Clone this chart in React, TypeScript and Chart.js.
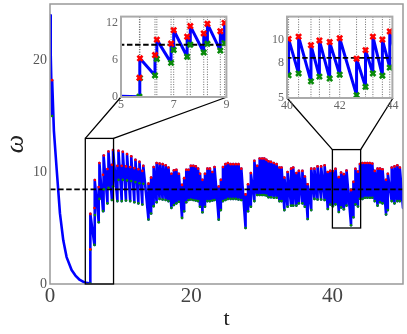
import React, { useEffect, useRef } from "react";
import { Chart, registerables } from "chart.js";

Chart.register(...registerables);

const SERIF = '"Liberation Serif", "DejaVu Serif", serif';

// free-decay samples (no kick)
const CURVE_T = [0, 0.1, 0.55, 0.95, 1.41, 1.88, 2.35, 3.06, 3.6, 4.23, 4.94, 50.0];
const CURVE_W = [24.0, 20.5, 13.7, 10.2, 6.3, 3.9, 2.4, 1.25, 0.75, 0.36, 0.12, 6.8];

// kick events: time, value before kick (green), value after kick (red)
const KICK_T = [
  0.30, 5.70, 5.72, 6.29, 6.36, 6.90, 7.00, 7.51, 7.63, 8.14,
  8.28, 8.77, 8.93, 9.55, 9.70, 10.16, 10.31, 10.76, 10.91, 11.36,
  11.51, 11.95, 12.10, 12.52, 12.67, 13.08, 13.22, 13.95, 14.32, 14.68,
  15.10, 15.52, 15.95, 16.38, 16.78, 17.20, 17.55, 17.90, 18.25, 18.70,
  19.00, 19.30, 19.62, 19.95, 20.30, 20.65, 20.98, 21.25, 21.60, 21.95,
  22.30, 22.65, 23.00, 23.30, 23.90, 24.20, 24.50, 24.85, 25.20, 25.58,
  25.95, 26.32, 26.70, 27.10, 27.70, 28.05, 28.45, 28.95, 29.35, 29.70,
  30.05, 30.35, 30.65, 30.95, 31.30, 31.70, 32.10, 32.50, 32.80, 33.20,
  33.65, 34.15, 34.45, 34.90, 35.25, 35.75, 36.10, 36.50, 37.00, 37.45,
  37.90, 38.40, 38.90, 39.35, 39.70, 40.06, 40.44, 40.91, 41.23, 41.62,
  42.00, 42.64, 42.98, 43.26, 43.62, 43.90, 44.25, 44.60, 44.95, 45.30,
  45.65, 46.00, 46.40, 46.75, 47.10, 47.60, 47.85, 48.40, 48.80, 49.20,
  49.55,
];
const KICK_PRE = [
  15.0, 0.05, 3.05, 3.49, 6.15, 5.52, 7.60, 6.51, 8.45, 7.20,
  8.60, 7.50, 8.70, 7.40, 9.30, 7.40, 9.30, 7.45, 9.25, 7.40,
  9.20, 7.30, 9.10, 7.20, 9.00, 7.10, 8.95, 5.76, 6.30, 6.95,
  7.30, 7.60, 7.55, 7.50, 7.40, 6.80, 7.05, 7.20, 7.35, 5.90,
  6.50, 7.30, 7.50, 7.55, 7.50, 7.45, 7.40, 6.90, 6.40, 6.90,
  7.40, 7.40, 7.45, 7.50, 5.75, 6.60, 7.40, 7.50, 7.60, 7.60,
  7.60, 7.60, 7.55, 7.50, 5.00, 6.50, 6.90, 7.40, 7.95, 7.95,
  7.95, 7.95, 7.90, 7.75, 7.75, 7.70, 7.70, 7.40, 7.40, 6.60,
  6.90, 7.00, 7.00, 7.00, 7.20, 7.20, 6.90, 5.80, 6.60, 7.60,
  7.55, 7.55, 7.50, 6.70, 7.10, 6.95, 7.11, 6.43, 6.84, 6.67,
  7.00, 5.25, 5.96, 7.11, 6.92, 7.61, 7.60, 7.70, 7.70, 7.70,
  7.70, 7.40, 7.00, 7.30, 7.20, 6.20, 6.60, 7.40, 7.20, 7.40,
  7.40,
];
const KICK_POST = [
  18.2, 3.10, 6.26, 6.78, 9.28, 8.65, 10.80, 9.75, 11.47, 10.27,
  11.83, 10.64, 11.97, 10.55, 11.90, 10.55, 11.80, 10.50, 11.60, 10.45,
  11.40, 10.35, 11.10, 10.25, 10.90, 10.10, 10.55, 8.96, 9.50, 10.45,
  10.80, 10.75, 10.70, 10.60, 10.40, 9.85, 10.15, 10.20, 9.85, 8.85,
  9.45, 10.20, 10.20, 10.55, 10.55, 10.50, 10.30, 9.85, 9.30, 9.85,
  10.30, 10.30, 10.00, 10.45, 8.70, 9.30, 10.45, 10.70, 10.80, 10.70,
  10.70, 10.70, 10.70, 10.30, 8.00, 8.90, 9.90, 11.00, 10.55, 11.20,
  11.20, 11.20, 11.10, 10.95, 10.90, 10.80, 10.70, 10.40, 10.40, 9.50,
  10.00, 10.30, 10.40, 9.90, 10.10, 10.10, 9.60, 8.90, 10.30, 10.30,
  10.50, 10.50, 10.60, 10.00, 10.10, 10.08, 10.28, 9.54, 9.95, 9.81,
  10.14, 8.38, 9.12, 10.28, 10.03, 10.72, 10.80, 10.80, 10.80, 10.80,
  10.75, 10.10, 10.30, 10.30, 10.25, 9.30, 9.85, 10.40, 10.50, 10.60,
  10.40,
];

const MEAN_OMEGA = 8.45;
const T_RANGE = [0, 50];
const W_RANGE = [0, 25];
const X_TICKS = [0, 20, 40];
const Y_TICKS = [0, 10, 20];
const INSET1_X_TICKS = [5, 7, 9];
const INSET1_Y_TICKS = [0, 6, 12];
const INSET2_X_TICKS = [40, 42, 44];
const INSET2_Y_TICKS = [5, 8, 10];

type Box = { left: number; top: number; width: number; height: number };
type InsetSpec = {
  xMin: number; xMax: number; yMin: number; yMax: number;
  xTicks: number[]; yTicks: number[]; box: Box;
};

const INSETS: InsetSpec[] = [
  { xMin: 5, xMax: 9, yMin: 0, yMax: 13, xTicks: INSET1_X_TICKS, yTicks: INSET1_Y_TICKS,
    box: { left: 121, top: 14, width: 106, height: 83 } },
  { xMin: 40, xMax: 44, yMin: 5, yMax: 12, xTicks: INSET2_X_TICKS, yTicks: INSET2_Y_TICKS,
    box: { left: 287, top: 14, width: 106, height: 84 } },
];
const INSET_AXIS_W = 22;
const INSET_AXIS_H = 18;
const INSET_PAD_T = 4;
const INSET_PAD_R = 6;

function buildLine() {
  const pts = CURVE_T.map((t, i) => ({ x: t, y: CURVE_W[i] }));
  KICK_T.forEach((t, i) => {
    pts.push({ x: t, y: KICK_PRE[i] });
    pts.push({ x: t, y: KICK_POST[i] });
  });
  return pts.sort((a, b) => a.x - b.x);
}

function makeDatasets(inset: boolean): any[] {
  const clip = inset ? 0 : undefined;
  const red = KICK_T.map((t, i) => ({ x: t, y: KICK_POST[i] }));
  const green = KICK_T.map((t, i) => ({ x: t, y: KICK_PRE[i] }));
  const marker = (color: string) => inset
    ? { pointStyle: "crossRot", pointRadius: 3.6, pointBorderWidth: 2.6, pointBorderColor: color, pointBackgroundColor: color }
    : { pointStyle: "circle", pointRadius: 1.3, pointBorderWidth: 0, pointBorderColor: color, pointBackgroundColor: color };
  return [
    { label: "peaks", data: red, showLine: false, clip, ...marker("#ff0000") },
    { label: "troughs", data: green, showLine: false, clip, ...marker("#0a8a0a") },
    { label: "mean", data: [{ x: T_RANGE[0], y: MEAN_OMEGA }, { x: T_RANGE[1], y: MEAN_OMEGA }],
      borderColor: "#000", borderWidth: 1.8, borderDash: [5.5, 2.6], pointRadius: 0, clip },
    { label: "omega", data: buildLine(), borderColor: "#0000ff", borderWidth: inset ? 3 : 2.6,
      pointRadius: 0, borderJoinStyle: "round", borderCapStyle: "round", clip },
  ];
}

const setTicks = (vals: number[]) => (s: any) => { s.ticks = vals.map((v) => ({ value: v })); };

const mainPlugin = {
  id: "mainDecor",
  afterDraw(chart: any) {
    const { ctx, chartArea: a, scales } = chart;
    const x = scales.x, y = scales.y;
    ctx.save();
    ctx.strokeStyle = "#999";
    ctx.lineWidth = 1.5;
    ctx.strokeRect(a.left, a.top, a.right - a.left, a.bottom - a.top);
    ctx.strokeStyle = "#000";
    ctx.lineWidth = 1.3;
    INSETS.forEach((ins) => {
      const l = x.getPixelForValue(ins.xMin);
      const r = x.getPixelForValue(ins.xMax);
      const t = y.getPixelForValue(ins.yMax);
      const b = y.getPixelForValue(ins.yMin);
      ctx.strokeRect(l, t, r - l, b - t);
      ctx.beginPath();
      ctx.moveTo(l, t);
      ctx.lineTo(ins.box.left, ins.box.top + ins.box.height);
      ctx.moveTo(r, t);
      ctx.lineTo(ins.box.left + ins.box.width, ins.box.top + ins.box.height);
      ctx.stroke();
    });
    ctx.restore();
  },
};

const insetPlugin = {
  id: "insetDecor",
  beforeDatasetsDraw(chart: any) {
    const { ctx, chartArea: a, scales } = chart;
    const x = scales.x;
    ctx.save();
    ctx.strokeStyle = "#444";
    ctx.lineWidth = 0.8;
    ctx.setLineDash([1, 1.5]);
    KICK_T.forEach((t) => {
      if (t < x.min || t > x.max) return;
      const px = x.getPixelForValue(t);
      ctx.beginPath();
      ctx.moveTo(px, a.top);
      ctx.lineTo(px, a.bottom);
      ctx.stroke();
    });
    ctx.restore();
  },
  afterDraw(chart: any) {
    const { ctx, chartArea: a } = chart;
    ctx.save();
    ctx.strokeStyle = "#aaa";
    ctx.lineWidth = 2;
    ctx.strokeRect(a.left, a.top, a.right - a.left, a.bottom - a.top);
    ctx.restore();
  },
};

function mainConfig(): any {
  return {
    type: "line",
    data: { datasets: makeDatasets(false) },
    options: {
      animation: false,
      responsive: false,
      devicePixelRatio: 1,
      events: [],
      layout: { padding: { left: 0, right: 3, top: 3, bottom: 0 } },
      plugins: { legend: { display: false }, tooltip: { enabled: false } },
      scales: {
        x: {
          type: "linear", min: T_RANGE[0], max: T_RANGE[1],
          afterBuildTicks: setTicks(X_TICKS),
          afterFit: (s: any) => { s.height = 50; s.paddingLeft = 0; s.paddingRight = 0; },
          grid: { display: false, drawTicks: false },
          border: { display: false },
          ticks: { padding: 0, color: "#444", font: { family: SERIF, size: 21 }, autoSkip: false, maxRotation: 0 },
          title: { display: true, text: "t", color: "#222", font: { family: SERIF, size: 22 }, padding: { top: 0, bottom: 2 } },
        },
        y: {
          type: "linear", min: W_RANGE[0], max: W_RANGE[1],
          afterBuildTicks: setTicks(Y_TICKS),
          afterFit: (s: any) => { s.width = 50; s.paddingTop = 0; s.paddingBottom = 0; },
          grid: { display: false, drawTicks: false },
          border: { display: false },
          ticks: { padding: 3, color: "#555", font: { family: SERIF, size: 14 } },
          title: { display: true, text: "ω", color: "#222", font: { family: SERIF, size: 26, style: "italic" }, padding: { top: 1, bottom: 0 } },
        },
      },
    },
    plugins: [mainPlugin],
  };
}

function insetConfig(ins: InsetSpec): any {
  return {
    type: "line",
    data: { datasets: makeDatasets(true) },
    options: {
      animation: false,
      responsive: false,
      devicePixelRatio: 1,
      events: [],
      layout: { padding: { left: 0, right: INSET_PAD_R, top: INSET_PAD_T, bottom: 0 } },
      plugins: { legend: { display: false }, tooltip: { enabled: false } },
      scales: {
        x: {
          type: "linear", min: ins.xMin, max: ins.xMax,
          afterBuildTicks: setTicks(ins.xTicks),
          afterFit: (s: any) => { s.height = INSET_AXIS_H; s.paddingLeft = 0; s.paddingRight = 0; },
          grid: { display: false, drawTicks: false },
          border: { display: false },
          ticks: { padding: 1, color: "#666", font: { family: SERIF, size: 12 }, autoSkip: false, maxRotation: 0 },
        },
        y: {
          type: "linear", min: ins.yMin, max: ins.yMax,
          afterBuildTicks: setTicks(ins.yTicks),
          afterFit: (s: any) => { s.width = INSET_AXIS_W; s.paddingTop = 0; s.paddingBottom = 0; },
          grid: { display: false, drawTicks: false },
          border: { display: false },
          ticks: { padding: 3, color: "#666", font: { family: SERIF, size: 12 } },
        },
      },
    },
    plugins: [insetPlugin],
  };
}

export default function App() {
  const mainRef = useRef<HTMLCanvasElement>(null);
  const inset1Ref = useRef<HTMLCanvasElement>(null);
  const inset2Ref = useRef<HTMLCanvasElement>(null);

  useEffect(() => {
    const charts: Chart[] = [];
    if (mainRef.current) charts.push(new Chart(mainRef.current, mainConfig()));
    [inset1Ref, inset2Ref].forEach((r, k) => {
      if (r.current) charts.push(new Chart(r.current, insetConfig(INSETS[k])));
    });
    return () => charts.forEach((c) => c.destroy());
  }, []);

  const insetRefs = [inset1Ref, inset2Ref];
  return (
    <div style={{ position: "fixed", left: 0, top: 0, width: 407, height: 334, background: "#fff" }}>
      <canvas ref={mainRef} width={407} height={334} style={{ position: "absolute", left: 0, top: 0 }} />
      {INSETS.map((ins, k) => {
        const w = ins.box.width + INSET_AXIS_W + INSET_PAD_R;
        const h = ins.box.height + INSET_PAD_T + INSET_AXIS_H;
        return (
          <canvas
            key={k}
            ref={insetRefs[k]}
            width={w}
            height={h}
            style={{ position: "absolute", left: ins.box.left - INSET_AXIS_W, top: ins.box.top - INSET_PAD_T }}
          />
        );
      })}
    </div>
  );
}
